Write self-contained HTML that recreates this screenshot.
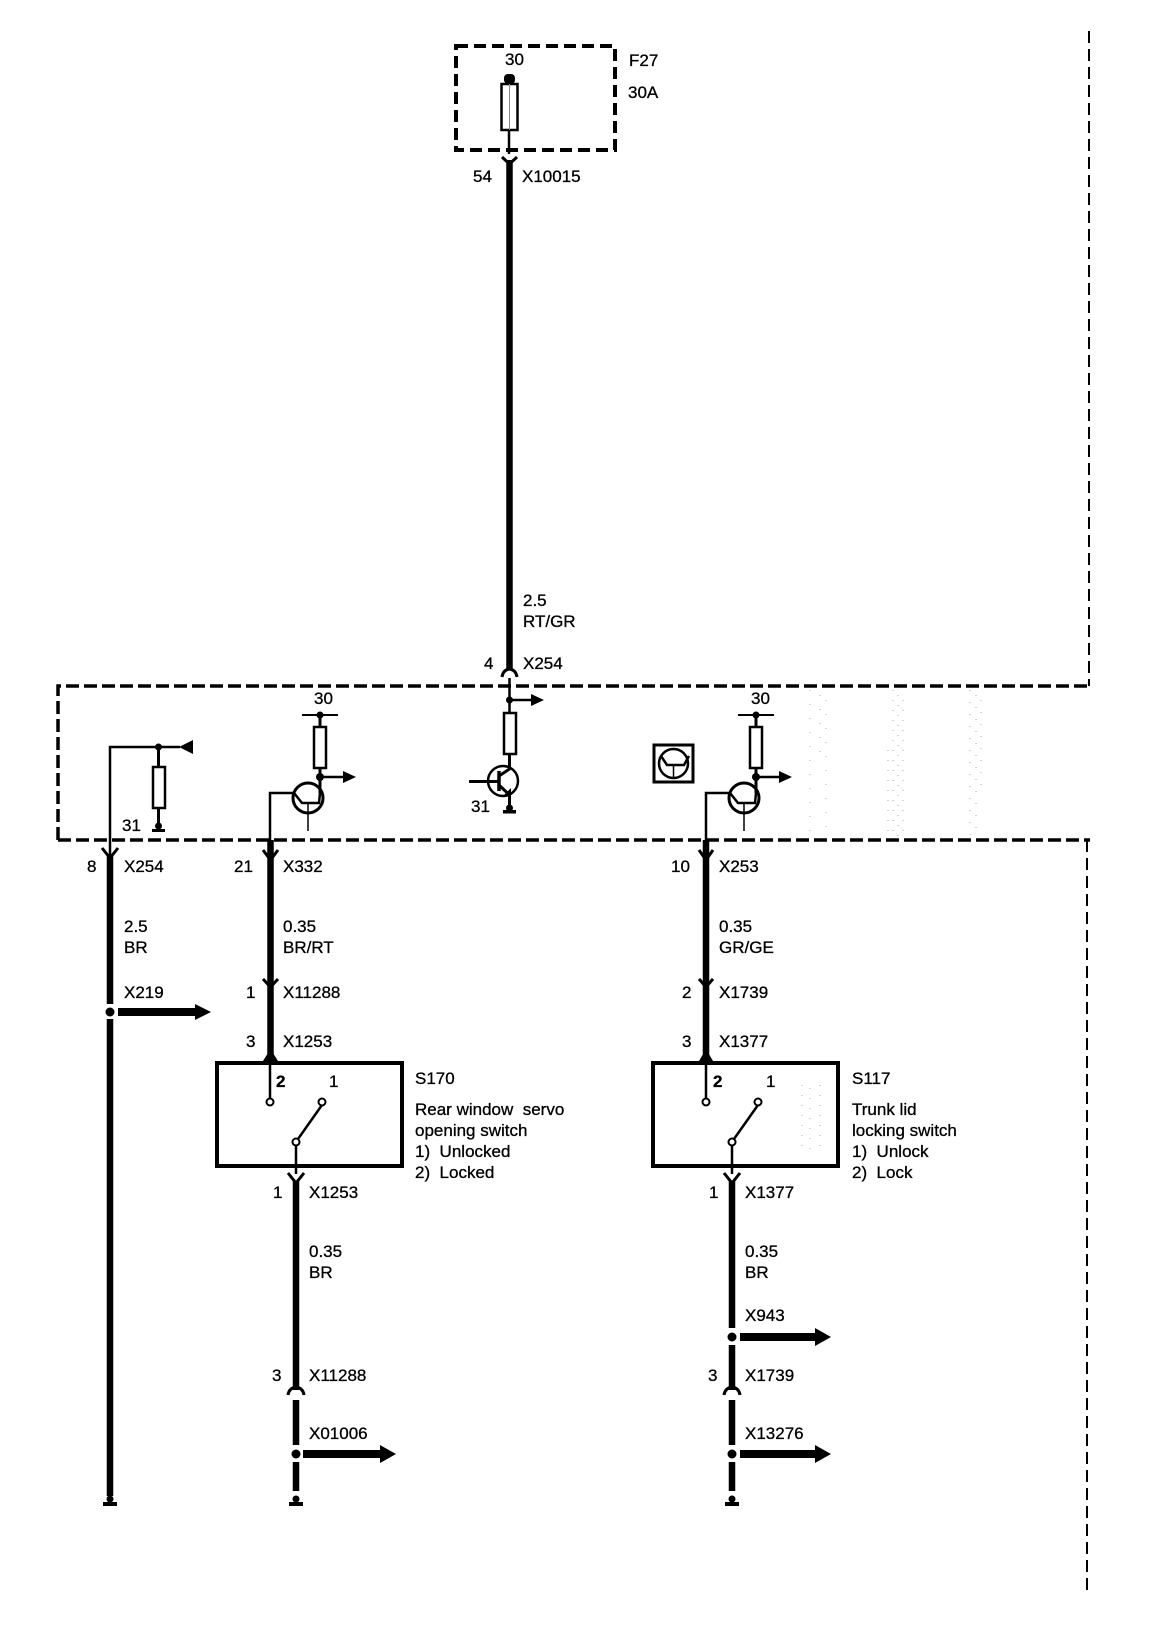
<!DOCTYPE html>
<html><head><meta charset="utf-8"><style>
html,body{margin:0;padding:0;background:#fff}
svg{display:block}
text{font-family:"Liberation Sans",sans-serif;font-size:17px;fill:#000;stroke:#000;stroke-width:.3}
</style></head><body>
<svg width="1152" height="1630" viewBox="0 0 1152 1630" xmlns="http://www.w3.org/2000/svg">
<rect width="1152" height="1630" fill="#fff"/>
<!-- speckles -->
<g fill="none" stroke="#aaa" stroke-width="1">
<path d="M810 690V836M820 695V760M826 700V833" stroke-dasharray="1 13"/>
<path d="M893 690V836M898 695V836M903 700V833M888 750V833" stroke-dasharray="1 9"/>
<path d="M970 690V836M976 695V836M981 700V790" stroke-dasharray="1 11"/>
<path d="M802 1085V1150M810 1088V1150M820 1085V1150" stroke-dasharray="1 9"/>
</g>
<!-- dashed frames -->
<g fill="none" stroke="#000">
<rect x="456" y="46" width="159" height="104" stroke-width="4" stroke-dasharray="12 6"/>
<path d="M58 840V686H1090M58 840H1090" stroke-width="3.500" stroke-dasharray="13 5"/>
<path d="M1089 31V686M1087 840V1593" stroke-width="2" stroke-dasharray="12 6"/>
</g>
<!-- fuse -->
<rect x="504" y="74" width="11" height="10" rx="4" fill="#000"/>
<rect x="501.500" y="84" width="16" height="46" fill="#fff" stroke="#000" stroke-width="2.500"/>
<path d="M509.500 84V130" stroke="#888" stroke-width="1"/>
<path d="M509 130V154" stroke="#000" stroke-width="2.500"/>
<!-- thick wires -->
<g stroke="#000" stroke-width="6.500" fill="none">
<path d="M509.500 160V670"/>
<path d="M110 855V1004M110 1019V1496"/>
<path d="M270.500 840V1056"/>
<path d="M296 1181V1390M296 1400V1445M296 1462V1491"/>
<path d="M706 840V1056"/>
<path d="M732 1181V1328M732 1345V1390M732 1400V1445M732 1462V1491"/>
</g>
<!-- forks -->
<g stroke="#000" stroke-width="3" fill="none">
<path d="M502 157L509.500 164L517 157"/>
<path d="M502 677Q503 670 509.500 669Q516 670 517 677"/>
<path d="M102 848L110 858L118 848"/>
<path d="M263 850L270.500 860L278 850"/>
<path d="M699 850L706 860L713 850"/>
<path d="M263 979L270.500 987L278 979"/>
<path d="M699 979L706 987L713 979"/>
<path d="M288 1173L296 1183L304 1173"/>
<path d="M724 1173L732 1183L740 1173"/>
<path d="M288 1395Q289 1388 296 1387Q303 1388 304 1395"/>
<path d="M724 1395Q725 1388 732 1387Q739 1388 740 1395"/>
</g>
<g fill="#000">
<path d="M263 1061L270.500 1049L278 1061Z"/>
<path d="M699 1061L706 1049L713 1061Z"/>
<circle cx="110" cy="1012" r="4.500"/>
<circle cx="296" cy="1454" r="4.500"/>
<circle cx="732" cy="1337" r="4.500"/>
<circle cx="732" cy="1454" r="4.500"/>
<!-- big arrows -->
<path d="M118 1008H195V1004L211 1012L195 1020V1016H118Z"/>
<path d="M303 1450H380V1445L396 1454L380 1463V1458H303Z"/>
<path d="M740 1333H815V1328L831 1337L815 1346V1341H740Z"/>
<path d="M740 1450H815V1445L831 1454L815 1463V1458H740Z"/>
<!-- bottom grounds -->
<circle cx="110" cy="1499" r="3.500"/><rect x="103" y="1502" width="14" height="4"/>
<circle cx="296" cy="1499" r="3.500"/><rect x="289" y="1502" width="14" height="4"/>
<circle cx="732" cy="1499" r="3.500"/><rect x="725" y="1502" width="14" height="4"/>
</g>
<!-- left network -->
<path d="M110 856V747H180" fill="none" stroke="#000" stroke-width="2.500"/>
<circle cx="158.500" cy="747" r="3.500"/>
<path d="M193 740V754L179 747Z"/>
<path d="M158.500 747V829" stroke="#000" stroke-width="3"/>
<rect x="153" y="767" width="12" height="41" fill="#fff" stroke="#000" stroke-width="2.500"/>
<circle cx="158.500" cy="826" r="3.500"/><rect x="152" y="829" width="13" height="3"/>
<!-- transistor helper defs (shapes only) -->
<defs>
<g id="tr" fill="none" stroke="#000">
<path d="M-36 0H0" stroke-width="2"/>
<path d="M-18 0V12" stroke-width="3"/>
<rect x="-24" y="12" width="12" height="41" fill="#fff" stroke-width="2.500"/>
<path d="M-18 53V62" stroke-width="3"/>
<circle cx="-18" cy="0" r="3.500" fill="#000" stroke="none"/>
<circle cx="-18" cy="62" r="4" fill="#000" stroke="none"/>
<path d="M-18 62H6" stroke-width="2.500"/>
<path d="M5 56L18 62L5 68Z" fill="#000" stroke="none"/>
<path d="M-18 62V78" stroke-width="3"/>
<circle cx="-30" cy="83" r="15" stroke-width="3"/>
<path d="M-18 78L-19 88L-36 88L-44 78H-68V126" stroke-width="2.500"/>
<path d="M-30 88V116" stroke-width="1.500"/>
</g>
</defs>
<use href="#tr" x="338" y="715"/>
<use href="#tr" x="774" y="715"/>
<!-- middle transistor -->
<g fill="none" stroke="#000">
<path d="M509.500 678V712" stroke-width="2.500"/>
<path d="M509.500 700H532" stroke-width="2.500"/>
<rect x="504" y="713" width="12" height="41" fill="#fff" stroke-width="2.500"/>
<path d="M509.500 754V769L499 776" stroke-width="3"/>
<circle cx="503" cy="781" r="15" stroke-width="2.500"/>
<path d="M499 771V791" stroke-width="3.500"/>
<path d="M469 781.500H499" stroke-width="3"/>
<path d="M499 785L509.500 795V808" stroke-width="3"/>
</g>
<circle cx="509.500" cy="700" r="3.500"/>
<path d="M531 694L544 700L531 706Z"/>
<path d="M504 795L511 788L511 796Z"/>
<circle cx="509.500" cy="808" r="3.500"/><rect x="503" y="810" width="13" height="3.500"/>
<!-- square icon -->
<g fill="none" stroke="#000">
<rect x="654" y="745" width="39" height="37" stroke-width="3" fill="#fff"/>
<circle cx="673.500" cy="763.500" r="14.500" stroke-width="2.500"/>
<path d="M661 756L667 765H684L689 756" stroke-width="2.500"/>
<path d="M673.500 765V778" stroke-width="1.500"/>
</g>
<!-- switches -->
<g fill="none" stroke="#000">
<rect x="217" y="1063" width="185" height="103" stroke-width="4"/>
<rect x="653" y="1063" width="185" height="103" stroke-width="4"/>
<path d="M270 1061V1098M296 1145V1174M322 1105L298 1139" stroke-width="2.500"/>
<path d="M706 1061V1098M732 1145V1174M758 1105L734 1139" stroke-width="2.500"/>
<g fill="#fff" stroke-width="2">
<circle cx="270" cy="1102" r="3.500"/><circle cx="322" cy="1102" r="3.500"/><circle cx="296" cy="1142" r="3.500"/>
<circle cx="706" cy="1102" r="3.500"/><circle cx="758" cy="1102" r="3.500"/><circle cx="732" cy="1142" r="3.500"/>
</g>
</g>
<!-- labels -->
<text x="505" y="65">30</text>
<text x="629" y="66">F27</text>
<text x="628" y="98">30A</text>
<text x="473" y="182">54</text>
<text x="522" y="182">X10015</text>
<text x="523" y="606">2.5</text>
<text x="523" y="627">RT/GR</text>
<text x="484" y="669">4</text>
<text x="523" y="669">X254</text>
<text x="314" y="704">30</text>
<text x="751" y="704">30</text>
<text x="122" y="831">31</text>
<text x="471" y="812">31</text>
<text x="87" y="872">8</text>
<text x="124" y="872">X254</text>
<text x="234" y="872">21</text>
<text x="283" y="872">X332</text>
<text x="671" y="872">10</text>
<text x="719" y="872">X253</text>
<text x="124" y="932">2.5</text>
<text x="124" y="953">BR</text>
<text x="124" y="998">X219</text>
<text x="283" y="932">0.35</text>
<text x="283" y="953">BR/RT</text>
<text x="246" y="998">1</text>
<text x="283" y="998">X11288</text>
<text x="246" y="1047">3</text>
<text x="283" y="1047">X1253</text>
<text x="719" y="932">0.35</text>
<text x="719" y="953">GR/GE</text>
<text x="682" y="998">2</text>
<text x="719" y="998">X1739</text>
<text x="682" y="1047">3</text>
<text x="719" y="1047">X1377</text>
<text x="276" y="1087" style="font-weight:bold">2</text>
<text x="329" y="1087">1</text>
<text x="713" y="1087" style="font-weight:bold">2</text>
<text x="766" y="1087">1</text>
<text x="415" y="1084">S170</text>
<text x="415" y="1115" xml:space="preserve">Rear window  servo</text>
<text x="415" y="1136">opening switch</text>
<text x="415" y="1157" xml:space="preserve">1)  Unlocked</text>
<text x="415" y="1178" xml:space="preserve">2)  Locked</text>
<text x="852" y="1084">S117</text>
<text x="852" y="1115">Trunk lid</text>
<text x="852" y="1136">locking switch</text>
<text x="852" y="1157" xml:space="preserve">1)  Unlock</text>
<text x="852" y="1178" xml:space="preserve">2)  Lock</text>
<text x="273" y="1198">1</text>
<text x="309" y="1198">X1253</text>
<text x="709" y="1198">1</text>
<text x="745" y="1198">X1377</text>
<text x="309" y="1257">0.35</text>
<text x="309" y="1278">BR</text>
<text x="745" y="1257">0.35</text>
<text x="745" y="1278">BR</text>
<text x="745" y="1321">X943</text>
<text x="272" y="1381">3</text>
<text x="309" y="1381">X11288</text>
<text x="708" y="1381">3</text>
<text x="745" y="1381">X1739</text>
<text x="309" y="1439">X01006</text>
<text x="745" y="1439">X13276</text>
</svg>
</body></html>
